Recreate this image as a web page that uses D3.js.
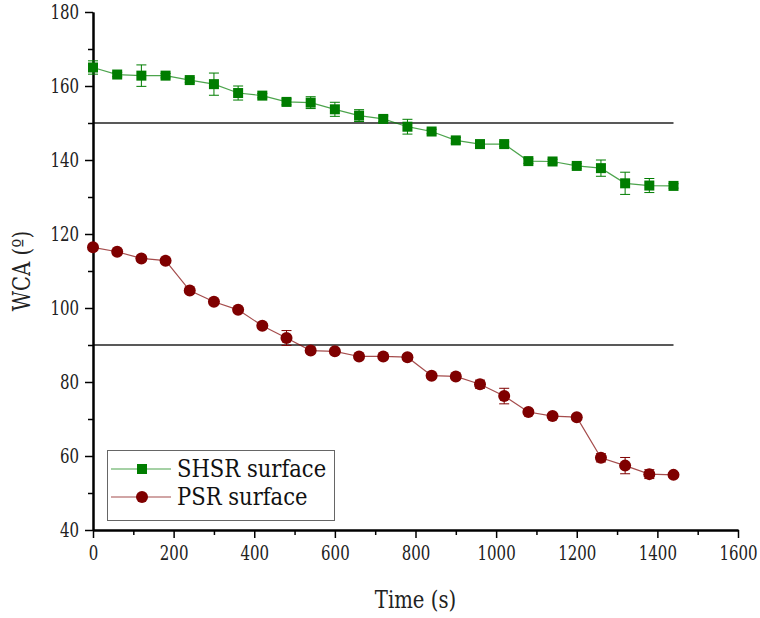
<!DOCTYPE html>
<html>
<head>
<meta charset="utf-8">
<script src="https://cdn.jsdelivr.net/npm/d3@7"></script>
<style>
  body { margin: 0; background: #fff; }
</style>
</head>
<body>
<div id="chart"></div>
<script>
const times = [0, 60, 120, 180, 240, 300, 360, 420, 480, 540, 600, 660, 720, 780, 840, 900, 960, 1020, 1080, 1140, 1200, 1260, 1320, 1380, 1440];
const shsr = [165.0, 163.1, 162.8, 162.8, 161.6, 160.5, 158.1, 157.4, 155.7, 155.5, 153.7, 152.0, 151.1, 149.0, 147.7, 145.3, 144.3, 144.3, 139.7, 139.6, 138.4, 137.8, 133.7, 133.1, 133.0];
const shsrErr = [1.8, 0.6, 2.9, 0.6, 0.6, 3.0, 1.9, 0.6, 0.8, 1.6, 1.9, 1.6, 0.8, 2.0, 0.6, 0.8, 0.6, 0.6, 0.6, 0.6, 0.6, 2.2, 3.0, 1.9, 0.6];
const psr = [116.4, 115.2, 113.4, 112.8, 104.7, 101.7, 99.5, 95.2, 91.9, 88.5, 88.3, 86.9, 86.9, 86.7, 81.7, 81.5, 79.4, 76.2, 71.9, 70.8, 70.5, 59.5, 57.4, 55.1, 54.9];
const psrErr = [0.6, 0.6, 0.6, 0.6, 0.6, 0.6, 0.6, 0.6, 2.0, 0.6, 0.6, 0.6, 0.6, 0.6, 0.6, 0.6, 1.1, 2.1, 0.6, 0.6, 0.6, 1.1, 2.2, 1.2, 0.6];
const refLines = [150, 90];
const xTicks = [0, 200, 400, 600, 800, 1000, 1200, 1400, 1600];
const yTicks = [40, 60, 80, 100, 120, 140, 160, 180];

const W = 760, H = 618;
const margin = {top: 12, right: 22, bottom: 88, left: 93};
const serif = "'DejaVu Serif', serif";
const sx = 0.75; // squeeze DejaVu Serif toward Times-like widths

const svg = d3.select("#chart").append("svg")
  .attr("width", W).attr("height", H);

const x = d3.scaleLinear().domain([0, 1600]).range([margin.left, W - margin.right]);
const y = d3.scaleLinear().domain([40, 180]).range([H - margin.bottom, margin.top]);

const green = "#007d00", red = "#7f0000";

// reference lines
svg.append("g").selectAll("line").data(refLines).enter().append("line")
  .attr("x1", x(0)).attr("x2", x(1440))
  .attr("y1", d => y(d)).attr("y2", d => y(d))
  .attr("stroke", "#222").attr("stroke-width", 1.5);

// axes
const gx = svg.append("g").attr("transform", "translate(0," + y(40) + ")")
  .call(d3.axisBottom(x).tickValues(xTicks).tickFormat(d3.format("d")).tickSize(8).tickPadding(8).tickSizeOuter(0));
svg.append("g").attr("transform", "translate(0," + y(40) + ")")
  .call(d3.axisBottom(x).tickValues(d3.range(100, 1600, 200)).tickSize(5).tickFormat("").tickSizeOuter(0));
const gy = svg.append("g").attr("transform", "translate(" + x(0) + ",0)")
  .call(d3.axisLeft(y).tickValues(yTicks).tickSize(8).tickPadding(6).tickSizeOuter(0));
svg.append("g").attr("transform", "translate(" + x(0) + ",0)")
  .call(d3.axisLeft(y).tickValues(d3.range(50, 180, 20)).tickSize(5).tickFormat("").tickSizeOuter(0));

svg.selectAll(".domain").attr("stroke", "#000").attr("stroke-width", 2);
svg.selectAll(".tick line").attr("stroke", "#000").attr("stroke-width", 1.5);
svg.selectAll(".tick text").attr("font-size", 20).attr("fill", "#222").style("font-family", serif);
gx.selectAll(".tick text").attr("transform", "scale(" + sx + ",1)");
gy.selectAll(".tick text").attr("x", -14 / sx).attr("transform", "scale(" + sx + ",1)");

// axis titles
svg.append("text").attr("transform", "translate(" + x(800) + ",608) scale(0.82,1)")
  .attr("text-anchor", "middle").attr("font-size", 24).attr("fill", "#222")
  .style("font-family", serif)
  .text("Time (s)");
svg.append("text").attr("transform", "translate(30," + y(110) + ") rotate(-90) scale(0.82,1)")
  .attr("text-anchor", "middle").attr("font-size", 24).attr("fill", "#222")
  .style("font-family", serif)
  .text("WCA (º)");

function drawSeries(vals, errs, color, shape) {
  const pts = times.map((t, i) => ({t: t, v: vals[i], e: errs[i]}));
  const g = svg.append("g");
  g.append("path").datum(pts)
    .attr("d", d3.line().x(d => x(d.t)).y(d => y(d.v)))
    .attr("fill", "none").attr("stroke", color).attr("stroke-opacity", 0.7).attr("stroke-width", 1.2);
  const eb = g.selectAll(".eb").data(pts).enter().append("g");
  eb.append("line").attr("x1", d => x(d.t)).attr("x2", d => x(d.t))
    .attr("y1", d => y(d.v - d.e)).attr("y2", d => y(d.v + d.e))
    .attr("stroke", color).attr("stroke-width", 1);
  [1, -1].forEach(s => {
    eb.append("line").attr("x1", d => x(d.t) - 5).attr("x2", d => x(d.t) + 5)
      .attr("y1", d => y(d.v + s * d.e)).attr("y2", d => y(d.v + s * d.e))
      .attr("stroke", color).attr("stroke-width", 1);
  });
  if (shape === "square") {
    g.selectAll("rect").data(pts).enter().append("rect")
      .attr("x", d => x(d.t) - 5).attr("y", d => y(d.v) - 5)
      .attr("width", 10).attr("height", 10).attr("fill", color);
  } else {
    g.selectAll("circle").data(pts).enter().append("circle")
      .attr("cx", d => x(d.t)).attr("cy", d => y(d.v)).attr("r", 6).attr("fill", color);
  }
}
drawSeries(shsr, shsrErr, green, "square");
drawSeries(psr, psrErr, red, "circle");

// legend
const lg = svg.append("g");
lg.append("rect").attr("x", 107.5).attr("y", 450.5).attr("width", 227).attr("height", 70)
  .attr("fill", "#fff").attr("stroke", "#666").attr("stroke-width", 1);
const items = [
  {label: "SHSR surface", color: green, shape: "square"},
  {label: "PSR surface", color: red, shape: "circle"}
];
items.forEach((it, i) => {
  const cy = 469 + i * 28;
  lg.append("line").attr("x1", 111).attr("x2", 171).attr("y1", cy).attr("y2", cy)
    .attr("stroke", it.color).attr("stroke-width", 1.2).attr("stroke-opacity", 0.7);
  if (it.shape === "square") {
    lg.append("rect").attr("x", 137).attr("y", cy - 5).attr("width", 10).attr("height", 10).attr("fill", it.color);
  } else {
    lg.append("circle").attr("cx", 142).attr("cy", cy).attr("r", 6).attr("fill", it.color);
  }
  lg.append("text").attr("transform", "translate(177," + (cy + 8) + ") scale(0.88,1)")
    .attr("font-size", 24).attr("fill", "#111")
    .style("font-family", serif)
    .text(it.label);
});
</script>
</body>
</html>
